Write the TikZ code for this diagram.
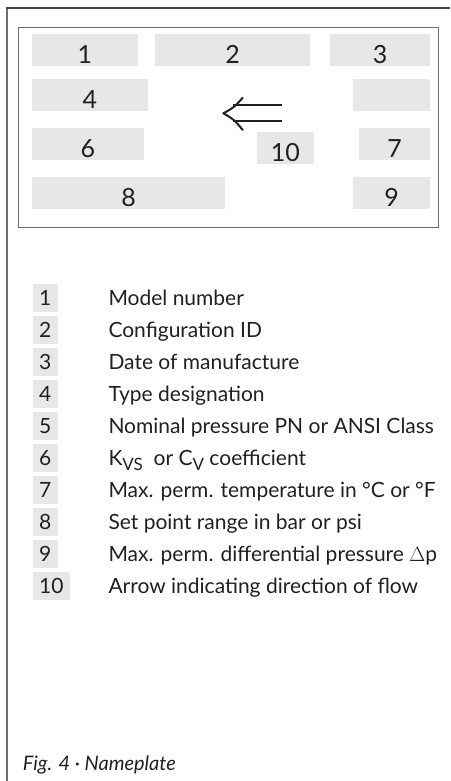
\documentclass[tikz,border=0pt]{standalone}
\usepackage{fontspec}
\setmainfont{Lato}
\definecolor{boxgray}{HTML}{E6E7E8}
\definecolor{ink}{HTML}{231F20}
\definecolor{framegray}{HTML}{6D6E71}
\tikzset{
  platebox/.style={fill=boxgray},
  platenum/.style={anchor=base,inner sep=0pt,text=ink,font=\fontsize{25}{25}\selectfont},
  legnum/.style={anchor=base,inner sep=0pt,text=ink,font=\fontsize{21}{21}\selectfont},
  legtext/.style={anchor=base west,inner sep=0pt,text=ink,font=\fontsize{21}{21}\selectfont},
}
\newcommand{\subcap}[1]{\raisebox{-5pt}{\fontsize{17}{17}\selectfont #1}}
\begin{document}
\begin{tikzpicture}[x=1pt,y=-1pt]
\useasboundingbox (0,0) rectangle (450,781);
% outer frame
\draw[framegray,line width=1.3pt] (7,781) -- (7,8);
\draw[ink!85,line width=1.1pt] (6.4,8) -- (450,8);
% inner frame
\draw[framegray,line width=1.3pt] (18.3,27.3) rectangle (438.7,227.3);
% plate boxes
\fill[platebox] (32,34) rectangle (137.7,65.7);
\fill[platebox] (155,34) rectangle (310,65.7);
\fill[platebox] (330,34) rectangle (430,65.7);
\fill[platebox] (32,79) rectangle (147.7,110.7);
\fill[platebox] (353,79) rectangle (430,110.7);
\fill[platebox] (32,128) rectangle (143.7,159.7);
\fill[platebox] (257,132) rectangle (313.7,163.7);
\fill[platebox] (359,128) rectangle (430,159.7);
\fill[platebox] (32,177) rectangle (225,208.7);
\fill[platebox] (353,177) rectangle (430,208.7);
\node[platenum] (p1) at (84.9,63.3) {1};
\node[platenum] (p2) at (232.5,63.3) {2};
\node[platenum] (p3) at (380,63.3) {3};
\node[platenum] (p4) at (89.8,108.3) {4};
\node[platenum] (p6) at (87.8,157.3) {6};
\node[platenum] (p10) at (285.3,161.3) {10};
\node[platenum] (p7) at (394.5,157.3) {7};
\node[platenum] (p8) at (128.5,206.3) {8};
\node[platenum] (p9) at (391.5,206.3) {9};
% flow arrow
\draw[ink,line width=2pt] (281.7,105.3) -- (233,105.3);
\draw[ink,line width=2pt] (281.7,121.3) -- (233,121.3);
\draw[ink,line width=2pt,line cap=round,line join=round]
  (242.7,97.7) .. controls (234,107.5) .. (223.3,113.3) .. controls (234,119.5) .. (242.7,130);
% legend
\foreach \i/\t in {1/Model number,2/Configuration ID,3/Date of manufacture,4/Type designation,5/Nominal pressure PN or ANSI Class,7/Max. perm. temperature in °C or °F,8/Set point range in bar or psi}{
  \fill[platebox] (33,{284+32*(\i-1)}) rectangle (57.7,{311.7+32*(\i-1)});
  \node[legnum] (n\i) at (45.3,{305+32*(\i-1)}) {\i};
  \node[legtext] (t\i) at (108.3,{305+32*(\i-1)}) {\t};
}
\fill[platebox] (33,444) rectangle (57.7,471.7);
\node[legnum] (n6) at (45.3,465) {6};
\node[legtext] (t6) at (108.3,465) {K\subcap{VS}\ \ or C\subcap{V} coefficient};
\fill[platebox] (33,540) rectangle (57.7,567.7);
\node[legnum] (n9) at (45.3,561) {9};
\node[legtext] (t9) at (108.3,561) {Max. perm. differential pressure $\Delta$p};
\fill[platebox] (33,572) rectangle (69.7,599.7);
\node[legnum] (n10) at (51.3,593) {10};
\node[legtext] (t10) at (108.3,593) {Arrow indicating direction of flow};
% caption
\node[anchor=base west,inner sep=0pt,text=ink,font=\fontsize{20}{20}\selectfont\itshape] (cap) at (22.7,770.7) {Fig. 4 · Nameplate};
\end{tikzpicture}
\end{document}
